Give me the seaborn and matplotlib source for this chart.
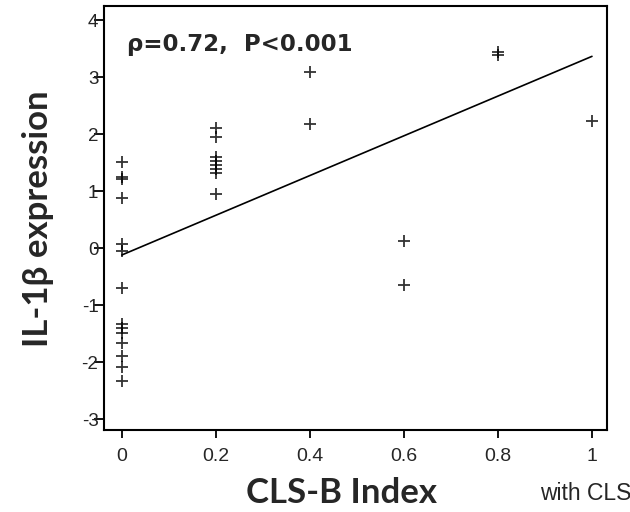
import numpy as np
import pandas as pd
import matplotlib
matplotlib.use("Agg")
import matplotlib.pyplot as plt
import seaborn as sns

# CLS-B index and IL-1β expression per sample
cls_b_index = [0, 0, 0, 0, 0, 0, 0, 0, 0, 0, 0, 0, 0, 0,
               0.2, 0.2, 0.2, 0.2, 0.2, 0.2, 0.2, 0.2,
               0.4, 0.4,
               0.6, 0.6,
               0.8, 0.8,
               1.0]
il1b_expression = [1.51, 1.26, 1.21, 0.89, 0.08, -0.05, -0.70, -1.32, -1.39, -1.49, -1.67, -1.89, -2.09, -2.32,
                   2.12, 1.95, 1.61, 1.54, 1.47, 1.40, 1.32, 0.96,
                   3.09, 2.19,
                   0.12, -0.65,
                   3.44, 3.39,
                   2.23]

x_ticks = [0, 0.2, 0.4, 0.6, 0.8, 1]
x_tick_labels = ["0", "0.2", "0.4", "0.6", "0.8", "1"]
y_ticks = [-3, -2, -1, 0, 1, 2, 3, 4]
y_tick_labels = ["-3", "-2", "-1", "0", "1", "2", "3", "4"]

stat_text = "ρ=0.72,  P<0.001"
x_label = "CLS-B Index"
y_label = "IL-1β expression"
note_text = "with CLS"

df = pd.DataFrame({"cls": cls_b_index, "il1b": il1b_expression})

sns.set_theme(style="white")
plt.rcParams["font.family"] = ["Liberation Sans", "DejaVu Sans"]

fig = plt.figure(figsize=(6.3, 5.12), dpi=100)
ax = fig.add_axes([0.165, 0.160, 0.7985, 0.828])

sns.regplot(data=df, x="cls", y="il1b", ax=ax, ci=None, marker="+", color="black",
            scatter_kws={"s": 85, "linewidths": 1.3},
            line_kws={"linewidth": 1.2})

ax.set_xlim(-0.038, 1.032)
ax.set_ylim(-3.19, 4.25)
ax.set_xticks(x_ticks)
ax.set_xticklabels(x_tick_labels, fontsize=14)
ax.set_yticks(y_ticks)
ax.set_yticklabels(y_tick_labels, fontsize=13.5,
                   family=["Liberation Sans Narrow", "Liberation Sans"])

ax.tick_params(axis="x", direction="out", length=6, width=1.3, color="black", pad=7, bottom=True)
ax.tick_params(axis="y", direction="out", length=7, width=1.3, color="black", pad=-3, left=True)

for side in ["left", "right", "top", "bottom"]:
    ax.spines[side].set_visible(True)
    ax.spines[side].set_color("black")
    ax.spines[side].set_linewidth(1.5)

ax.set_xlabel("")
ax.set_ylabel("")

ax.text(0.012, 3.47, stat_text, fontsize=16.5, fontweight="bold",
        family=["DejaVu Sans"], ha="left", va="baseline")

fig.text(342 / 630, 1 - 493 / 512, x_label, fontsize=25, fontweight="bold",
         family=["Lato", "DejaVu Sans"], ha="center", va="center")
fig.text(38 / 630, 1 - 219 / 512, y_label, fontsize=25, fontweight="bold",
         family=["Lato", "DejaVu Sans"], ha="center", va="center", rotation=90)
fig.text(540 / 630, 1 - 494 / 512, note_text, fontsize=16.5, ha="left", va="center")

fig.savefig("out.png", dpi=100)
